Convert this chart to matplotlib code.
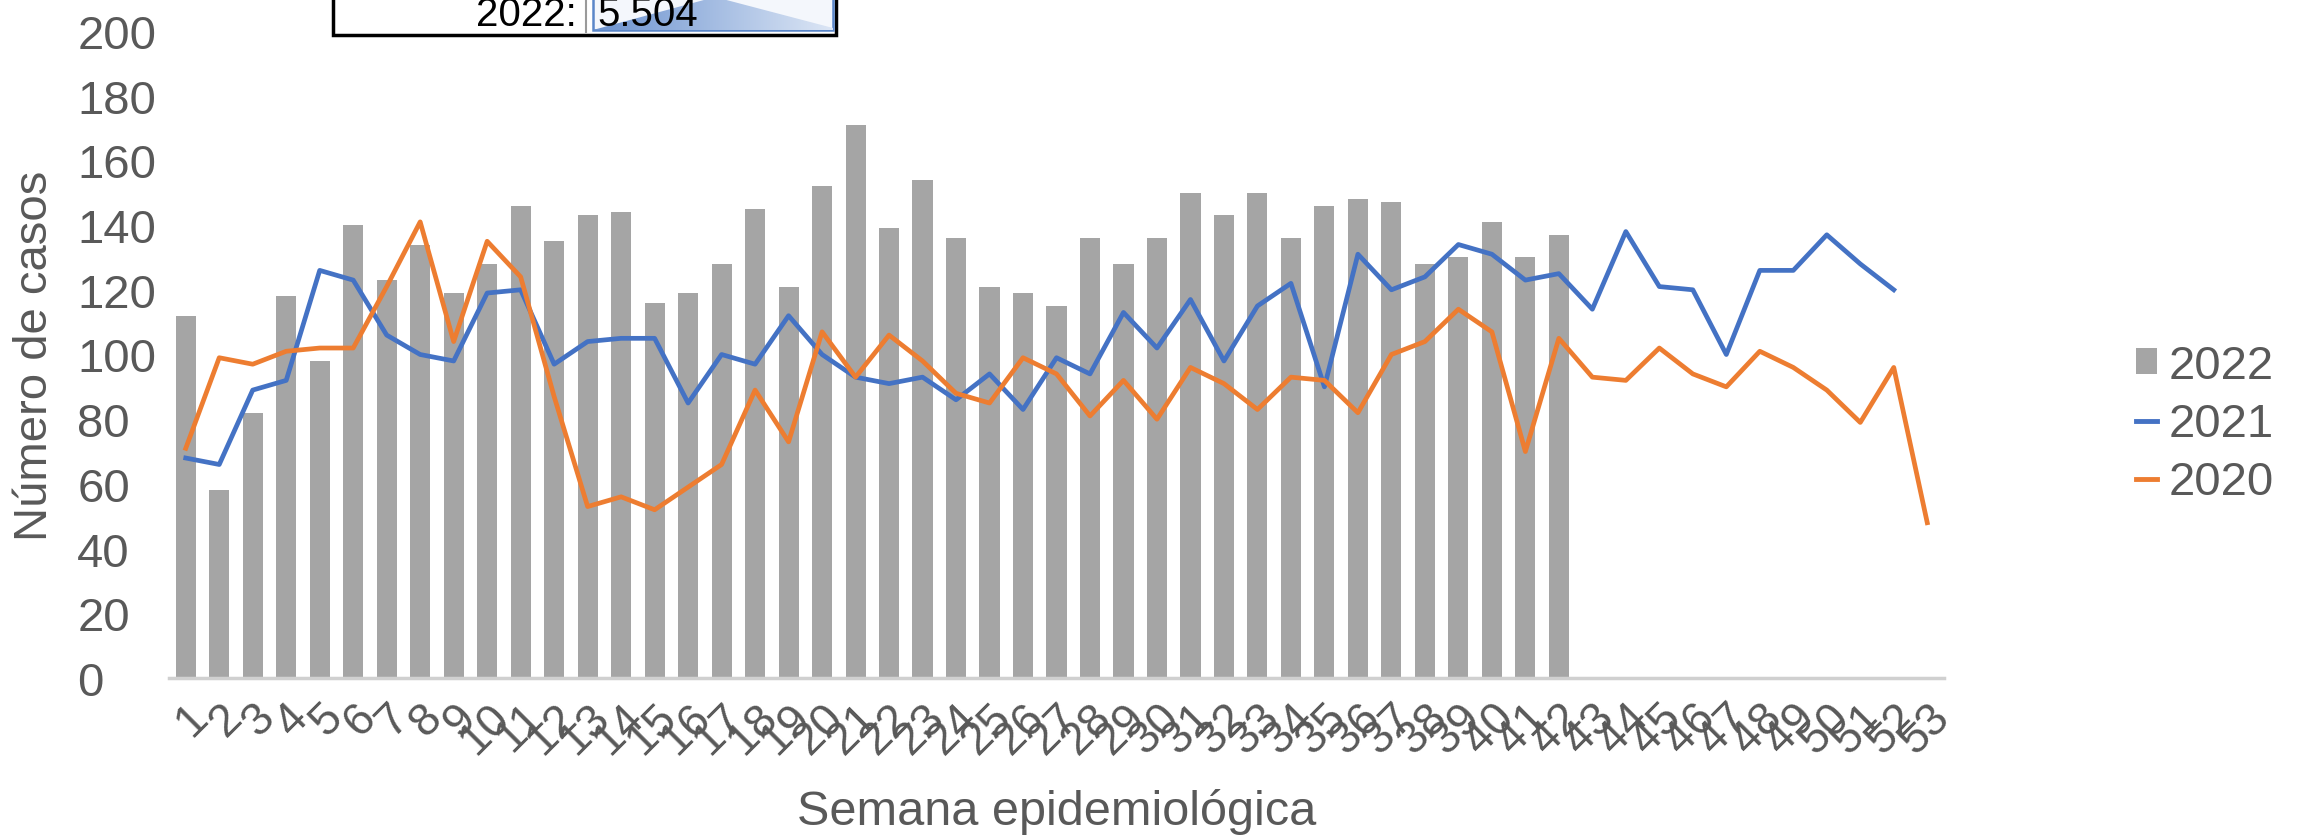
import matplotlib
matplotlib.use('Agg')
import matplotlib.pyplot as plt
import numpy as np
from matplotlib.patches import Rectangle, Polygon, Patch
from matplotlib.lines import Line2D

weeks = list(range(1, 54))

cases_2022 = [112, 58, 82, 118, 98, 140, 123, 134, 119, 128, 146, 135, 143,
              144, 116, 119, 128, 145, 121, 152, 171, 139, 154, 136, 121, 119,
              115, 136, 128, 136, 150, 143, 150, 136, 146, 148, 147, 128, 130,
              141, 130, 137]

cases_2021 = [68, 66, 89, 92, 126, 123, 106, 100, 98, 119, 120, 97, 104,
              105, 105, 85, 100, 97, 112, 100, 93, 91, 93, 86, 94, 83,
              99, 94, 113, 102, 117, 98, 115, 122, 90, 131, 120, 124, 134,
              131, 123, 125, 114, 138, 121, 120, 100, 126, 126, 137, 128, 120]

cases_2020 = [71, 99, 97, 101, 102, 102, 121, 141, 104, 135, 124, 87, 53,
              56, 52, 59, 66, 89, 73, 107, 93, 106, 98, 88, 85, 99,
              94, 81, 92, 80, 96, 91, 83, 93, 92, 82, 100, 104, 114,
              107, 70, 105, 93, 92, 102, 94, 90, 101, 96, 89, 79, 96, 48]

total_label = '2022:'
total_value = '5.504'

W, H = 2300, 837
fig = plt.figure(figsize=(W / 100, H / 100), dpi=100)
ax = fig.add_axes([169 / W, 1 - 679 / H, 1775 / W, 647 / H])

font = ['Liberation Sans', 'DejaVu Sans']
txt = '#595959'

ax.bar(weeks[:len(cases_2022)], cases_2022, width=0.6, color='#a5a5a5', label='2022', zorder=2)
ax.plot(weeks[:len(cases_2021)], cases_2021, color='#4472c4', lw=3.4, label='2021', zorder=3)
ax.plot(weeks[:len(cases_2020)], cases_2020, color='#ed7d31', lw=3.4, label='2020', zorder=3)

ax.set_xlim(0.5, 53.5)
ax.set_ylim(0, 200)
ax.set_yticks(range(0, 201, 20))
ax.set_xticks(weeks)
ax.set_xticklabels([str(w) for w in weeks], rotation=45, ha='right', va='top',
                   rotation_mode='anchor', fontsize=33, color=txt, family=font)
# y labels are left aligned in the original
for lab in ax.get_yticklabels():
    lab.set_fontsize(34)
    lab.set_color(txt)
    lab.set_family(font)
    lab.set_horizontalalignment('left')
ax.tick_params(axis='both', length=0)
ax.tick_params(axis='x', pad=12)
ax.tick_params(axis='y', pad=66)
for s in ['top', 'right', 'left']:
    ax.spines[s].set_visible(False)
ax.spines['bottom'].set_color('#d0d0d0')
ax.spines['bottom'].set_linewidth(2.5)

ax.set_ylabel('Número de casos', fontsize=34, color=txt, family=font)
ax.yaxis.set_label_coords(-0.063, 0.5)
ax.set_xlabel('Semana epidemiológica', fontsize=35, color=txt, family=font)
ax.xaxis.set_label_coords(0.5, -0.17)

handles = [Patch(facecolor='#a5a5a5', label='2022'),
           Line2D([], [], color='#4472c4', lw=3.5, label='2021'),
           Line2D([], [], color='#ed7d31', lw=3.5, label='2020')]
leg = fig.legend(handles=handles, loc='center left', bbox_to_anchor=(2136 / W, 1 - 425 / H),
                 frameon=False, handlelength=0.45, handleheight=0.45, handletextpad=0.25,
                 labelspacing=0.3, borderaxespad=0, borderpad=0, prop={'family': font, 'size': 34})
for t in leg.get_texts():
    t.set_color(txt)

# total box cut at top of the image
ov = fig.add_axes([0, 0, 1, 1], facecolor='none')
ov.set_xlim(0, W)
ov.set_ylim(H, 0)
ov.axis('off')
ov.add_patch(Rectangle((333, -20), 503, 56, facecolor='white', edgecolor='black', lw=2.5))
ov.plot([586, 586], [-5, 33], color='#9a9a9a', lw=1.5)
cell = Rectangle((593, -5), 240, 36, facecolor='#f4f7fc', edgecolor='#5b87c9', lw=1.8)
ov.add_patch(cell)
tri = Polygon([[593, 31], [715, -2], [833, 29], [833, 31]], closed=True, facecolor='none', edgecolor='none')
ov.add_patch(tri)
grad = np.linspace(0, 1, 256).reshape(1, -1)
cmap = matplotlib.colors.LinearSegmentedColormap.from_list('g', ['#6b92cf', '#dce6f5'])
im = ov.imshow(grad, extent=[593, 833, 31, -2], cmap=cmap, aspect='auto', zorder=2)
im.set_clip_path(tri)
ov.text(577, 26, total_label, ha='right', va='baseline', fontsize=29, family=font, color='black')
ov.text(597, 26, total_value, ha='left', va='baseline', fontsize=29, family=font, color='black', zorder=3)

fig.savefig('out.png', dpi=100)
